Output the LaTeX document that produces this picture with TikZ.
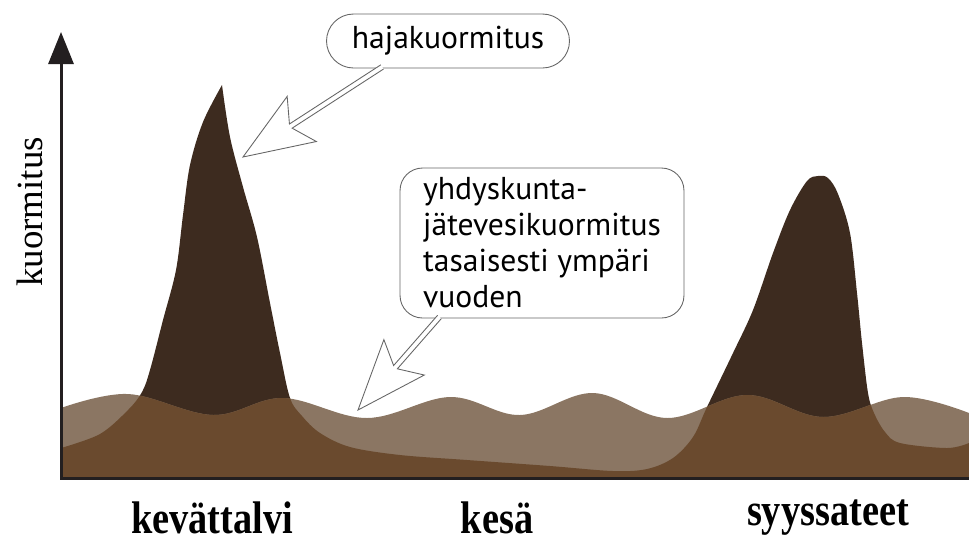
\documentclass[tikz,border=0pt]{standalone}
\usepackage{fontspec}
\setmainfont{Liberation Serif}
\newfontfamily\bubblefont{PT Sans}
\usepackage{tikz}
\usetikzlibrary{calc, arrows.meta}

\definecolor{peakdark}{HTML}{3D2B1F}
\definecolor{bandmid}{HTML}{6A4A2E}
\definecolor{bandlight}{HTML}{8B7663}
\definecolor{axisblack}{HTML}{231F20}

% hollow callout arrow: #1 start (inside the bubble), #2 tip
\newcommand{\hollowarrow}[2]{%
    \fill[white] ($(#1)!0.05cm!-90:(#2)$) -- ($(#2)!1.14cm!2.5:(#1)$) -- ($(#2)!1.5cm!21:(#1)$)
        -- (#2) -- ($(#2)!1.5cm!-21:(#1)$) -- ($(#2)!1.14cm!-2.5:(#1)$) -- ($(#1)!0.05cm!90:(#2)$) -- cycle;
    \draw[pointer] ($(#1)!0.05cm!-90:(#2)$) -- ($(#2)!1.14cm!2.5:(#1)$) -- ($(#2)!1.5cm!21:(#1)$)
        -- (#2) -- ($(#2)!1.5cm!-21:(#1)$) -- ($(#2)!1.14cm!-2.5:(#1)$) -- ($(#1)!0.05cm!90:(#2)$);
}

\begin{document}
\begin{tikzpicture}[x=0.02cm, y=-0.02cm, >=latex,
    axisline/.style={line width=0.06cm, color=axisblack},
    bubble/.style={draw=black!60, line width=0.5pt, fill=white, font=\bubblefont\fontsize{18}{20.5}\selectfont},
    pointer/.style={draw=black!60, line width=0.5pt, line join=miter},
    season/.style={font=\fontsize{26}{30}\selectfont\bfseries, anchor=base, inner sep=0pt}]
    \useasboundingbox (0,0) rectangle (969,542);

    % Hajakuormitus: kaksi huippua
    \path[save path=\darkreg] (61,477) -- (61,448)
        -- plot[smooth, tension=0.55] coordinates {(61,448) (100,434) (128,410) (142,392) (150,370)
            (163,320) (176,270) (183,215) (190,165) (203,122) (222,85)}
        -- plot[smooth, tension=0.55] coordinates {(222,85) (230,137) (243,187) (257,237) (270,303)
            (280,353) (290,398) (302,416) (320,433) (350,447) (400,455) (467,460) (550,466)
            (613,471) (647,469) (673,458) (693,437) (707,407) (733,353) (753,310) (773,253)
            (790,210) (807,181) (818,176) (828,178) (838,194) (850,233) (857,293) (862,343)
            (868,393) (874,413) (885,432) (900,443) (947,448) (969,443)}
        -- (969,477) -- cycle;
    % Yhdyskuntajätevesi: aaltoileva kaista
    \path[save path=\wavereg] (61,477) -- (61,408)
        -- plot[smooth, tension=0.6] coordinates {(61,408) (128,394) (213,415) (283,398) (367,418)
            (450,397) (520,415) (593,393) (667,418) (747,395) (823,417) (903,397) (969,413)}
        -- (969,477) -- cycle;

    \fill[peakdark, use path=\darkreg];
    \fill[bandlight, use path=\wavereg];
    \begin{scope}
        \clip[use path=\darkreg];
        \fill[bandmid, use path=\wavereg];
    \end{scope}

    % Akselit
    \coordinate (origin) at (61,478);
    \coordinate (ytop) at (61,32);
    \coordinate (xend) at (969,478);
    \draw[axisline, -{Triangle[width=0.5cm, length=0.64cm]}] (61,479.5) -- (ytop);
    \draw[axisline] (origin) -- (xend);
    \node[rotate=90, anchor=base, inner sep=0pt, font=\fontsize{21}{24}\selectfont] (ylabel) at (42,212) {kuormitus};

    % Vuodenajat
    \node[season] (spring) at (212,533) {\scalebox{0.84}[1]{kevättalvi}};
    \node[season] (summer) at (497,533) {\scalebox{0.84}[1]{kesä}};
    \node[season] (autumn) at (828,525) {\scalebox{0.84}[1]{syyssateet}};

    % Puhekuplat
    \node[bubble, minimum width=4.86cm, minimum height=1.08cm, rounded corners=0.54cm] (haja) at (448,41) {hajakuormitus};
    \node[bubble, minimum width=5.68cm, minimum height=3cm, rounded corners=0.45cm, align=left] (yhd) at (542,243)
        {yhdyskunta-\\jätevesikuormitus\\tasaisesti ympäri\\vuoden};

    \coordinate (from1) at ($(haja.south west)!0.23!(haja.south east)+(0,-1.5)$);
    \coordinate (tip1) at (243,157);
    \coordinate (from2) at ($(yhd.south west)!0.14!(yhd.south east)+(0,-1.5)$);
    \coordinate (tip2) at (358,410);
    \hollowarrow{from1}{tip1}
    \hollowarrow{from2}{tip2}
\end{tikzpicture}
\end{document}
